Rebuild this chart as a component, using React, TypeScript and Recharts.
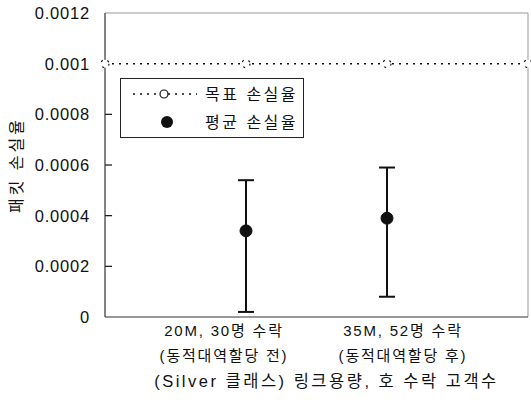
import React from "react";
import {
  ComposedChart,
  Line,
  XAxis,
  YAxis,
  ErrorBar,
  ReferenceLine,
  Legend,
} from "recharts";

const positions = [0, 1, 2, 3];
const targetLoss = [0.001, 0.001, 0.001, 0.001];
const meanLoss = [null, 0.00034, 0.00039, null];
const lowerErr = [0, 0.00032, 0.00031, 0];
const upperErr = [0, 0.0002, 0.0002, 0];
const tickLines1 = ["", "20M, 30명 수락", "35M, 52명 수락", ""];
const tickLines2 = ["", "(동적대역할당 전)", "(동적대역할당 후)", ""];
const yTicks = [0, 0.0002, 0.0004, 0.0006, 0.0008, 0.001, 0.0012];
const innerTicks = [0.0002, 0.0004, 0.0006, 0.0008];

const data = positions.map((x, i) => ({
  x,
  target: targetLoss[i],
  mean: meanLoss[i],
  err: [lowerErr[i], upperErr[i]],
}));

const FONT = "'Liberation Sans', 'Noto Sans CJK KR', sans-serif";
// the scanned figure's labels sit a little off the markers
const labelShift = [0, -22, 16, 0];
// length of the inward tick marks, in x-axis units (~7px)
const TICK_LEN = 0.05;

const XTick = (props: any) => {
  const { x, y, payload } = props;
  const i = positions.indexOf(payload.value);
  const cx = x + labelShift[i];
  return (
    <g>
      <text x={cx} y={y + 11} textAnchor="middle" fontSize={15} letterSpacing={1.8} fill="#111" fontFamily={FONT}>
        {tickLines1[i]}
      </text>
      <text x={cx} y={y + 36} textAnchor="middle" fontSize={15} letterSpacing={1.8} fill="#111" fontFamily={FONT}>
        {tickLines2[i]}
      </text>
    </g>
  );
};

const YLabel = () => (
  <text
    x={22}
    y={165}
    transform="rotate(-90 22 165)"
    textAnchor="middle"
    fontSize={16}
    letterSpacing={3}
    fill="#111"
    fontFamily={FONT}
  >
    패킷 손실율
  </text>
);

const LegendBox = () => (
  <div
    style={{
      position: "absolute",
      left: 120,
      top: 78,
      width: 182,
      height: 58,
      border: "1px solid #222",
      background: "#fff",
    }}
  >
    <svg width={182} height={58} style={{ position: "absolute", left: 0, top: 0 }}>
      <line x1={12} y1={15} x2={76} y2={15} stroke="#111" strokeWidth={1.5} strokeDasharray="2 5" />
      <circle cx={43} cy={15} r={4} fill="#fff" stroke="#111" strokeWidth={1.2} />
      <text x={84} y={21} fontSize={16} letterSpacing={2.5} fill="#111" fontFamily={FONT}>목표 손실율</text>
      <circle cx={46} cy={43} r={6} fill="#111" />
      <text x={84} y={49} fontSize={16} letterSpacing={2.5} fill="#111" fontFamily={FONT}>평균 손실율</text>
    </svg>
  </div>
);

export default function App() {
  return (
    <div style={{ position: "absolute", left: 0, top: 0, background: "#fff" }}>
      <ComposedChart
        width={531}
        height={407}
        data={data}
        margin={{ top: 13, right: 3, left: 0, bottom: 0 }}
      >
        <XAxis
          dataKey="x"
          type="number"
          domain={[0, 3]}
          ticks={[1, 2]}
          tick={<XTick />}
          tickLine={false}
          axisLine={{ stroke: "#333", strokeWidth: 1.2 }}
          height={90}
          label={{
            value: "(Silver 클래스) 링크용량, 호 수락 고객수",
            position: "insideBottom",
            offset: 20,
            dx: 10,
            fontSize: 16.5,
            letterSpacing: 2.5,
            fill: "#111",
            fontFamily: FONT,
          }}
        />
        <YAxis
          type="number"
          domain={[0, 0.0012]}
          ticks={yTicks}
          interval={0}
          width={105}
          tickSize={0}
          tickMargin={15}
          tickLine={false}
          axisLine={{ stroke: "#333", strokeWidth: 1.2 }}
          tickFormatter={(v: number) => String(v)}
          tick={{ fontSize: 16.5, letterSpacing: 0.8, fill: "#111", fontFamily: FONT }}
          label={<YLabel />}
        />
        <ReferenceLine y={0.0012} stroke="#999" strokeWidth={1} />
        <ReferenceLine x={3} stroke="#999" strokeWidth={1} />
        {innerTicks.map((v) => (
          <ReferenceLine
            key={v}
            segment={[
              { x: 0, y: v },
              { x: TICK_LEN, y: v },
            ]}
            stroke="#111"
            strokeWidth={1.2}
          />
        ))}
        <Line
          dataKey="target"
          stroke="#111"
          strokeWidth={1.5}
          strokeDasharray="2 5"
          dot={{ r: 4, fill: "#fff", stroke: "#111", strokeWidth: 1.2 }}
          isAnimationActive={false}
        />
        <Line
          dataKey="mean"
          stroke="none"
          dot={{ r: 6, fill: "#111", stroke: "#111" }}
          connectNulls={false}
          isAnimationActive={false}
        >
          <ErrorBar dataKey="err" width={8} stroke="#111" strokeWidth={2} direction="y" />
        </Line>
        <Legend content={<LegendBox />} wrapperStyle={{ position: "absolute", left: 0, top: 0, width: 0, height: 0 }} />
      </ComposedChart>
    </div>
  );
}
